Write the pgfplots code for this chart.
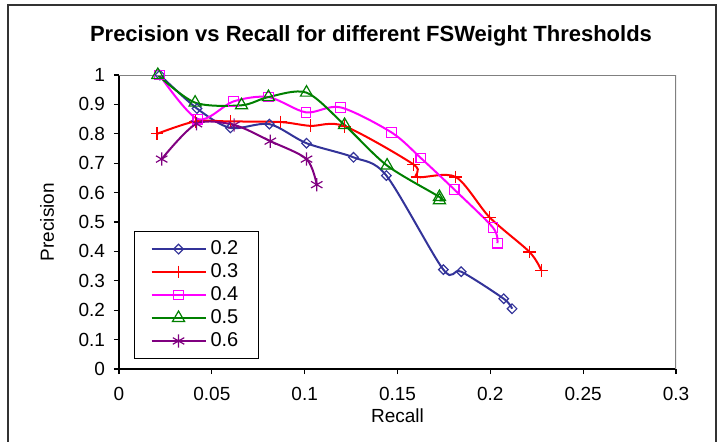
\documentclass[border=0pt]{standalone}
\usepackage{pgfplots}
\pgfplotsset{compat=1.18}
\usepackage{fontspec}
\setmainfont{Liberation Sans}
\definecolor{cA}{RGB}{51,51,153}
\definecolor{cB}{RGB}{255,0,0}
\definecolor{cC}{RGB}{255,0,255}
\definecolor{cD}{RGB}{0,128,0}
\definecolor{cE}{RGB}{128,0,128}
\begin{document}
\begin{tikzpicture}[x=0.5pt,y=0.5pt]
\useasboundingbox (0,0) rectangle (724,441);
\draw[line width=0.6pt,black!80] (8,-2) -- (8,436) -- (716,436) -- (716,-2);
\node[font=\fontsize{11}{13}\selectfont\bfseries] at (371,405) {Precision vs Recall for different FSWeight Thresholds};
\begin{axis}[
  at={(59.5pt,36pt)}, anchor=south west,
  scale only axis, width=278.5pt, height=147pt,
  xmin=0, xmax=0.3, ymin=0, ymax=1,
  axis lines*=left,
  axis line style={black, line width=0.9pt},
  xtick={0,0.05,0.1,0.15,0.2,0.25,0.3},
  xticklabels={0,0.05,0.1,0.15,0.2,0.25,0.3},
  ytick={0,0.1,0.2,0.3,0.4,0.5,0.6,0.7,0.8,0.9,1},
  yticklabels={0,0.1,0.2,0.3,0.4,0.5,0.6,0.7,0.8,0.9,1},
  tick align=outside, major tick length=2.5pt,
  tick style={black, line width=0.6pt},
  ticklabel style={font=\fontsize{9.5}{10}\selectfont},
  xticklabel style={yshift=-3pt},
  yticklabel style={xshift=-1pt},
  xlabel={Recall}, ylabel={Precision},
  label style={font=\fontsize{9.5}{10}\selectfont},
  xlabel style={at={([yshift=-23.5pt]axis description cs:0.5,0)}, anchor=center},
  ylabel style={at={([xshift=-36pt]axis description cs:0,0.5)}, anchor=center},
  every axis plot/.append style={smooth, tension=0.5, line width=1pt},
  legend style={at={(0.027,0.469)}, anchor=north west, draw=black, line width=0.5pt,
    font=\fontsize{10}{10}\selectfont, inner xsep=8pt, inner ysep=3pt,
    nodes={inner xsep=2pt, inner ysep=1.5pt}},
  legend cell align=left,
  legend image code/.code={\draw[mark repeat=2,mark phase=2,#1] plot coordinates {(0pt,0pt) (13.5pt,0pt) (27pt,0pt)};},
]
\addplot[cA, mark=square, mark size=1.7pt, mark options={rotate=45, fill=white, line width=0.6pt}] coordinates {
(0.022,1.0) (0.042,0.886) (0.060,0.820) (0.081,0.833) (0.101,0.768) (0.1263,0.72) (0.144,0.658) (0.1747,0.338) (0.1843,0.331) (0.2072,0.239) (0.2117,0.205)};
\addlegendentry{0.2}
\addplot[cB, mark=+, mark size=3.2pt, mark options={line width=0.6pt}] coordinates {
(0.0205,0.80) (0.041,0.842) (0.060,0.842) (0.087,0.840) (0.103,0.827) (0.1215,0.826) (0.1588,0.695) (0.1607,0.653) (0.1814,0.653) (0.1996,0.516) (0.2211,0.398) (0.2274,0.336)};
\addlegendentry{0.3}
\addplot[cC, mark=square, mark size=2.4pt, mark options={fill=white, line width=0.6pt}] coordinates {
(0.0218,1.0) (0.0424,0.85) (0.0616,0.91) (0.0805,0.925) (0.1007,0.873) (0.1193,0.89) (0.1467,0.805) (0.1625,0.718) (0.1805,0.611) (0.2014,0.481) (0.2038,0.428)};
\addlegendentry{0.4}
\addplot[cD, mark=triangle, mark size=3.5pt, mark options={fill=white, line width=0.6pt}] coordinates {
(0.0209,1.0) (0.041,0.906) (0.066,0.897) (0.0805,0.925) (0.101,0.94) (0.1215,0.83) (0.1444,0.692) (0.1726,0.585) (0.1726,0.574)};
\addlegendentry{0.5}
\addplot[cE, mark=asterisk, mark size=3.3pt, mark options={line width=0.6pt}] coordinates {
(0.023,0.714) (0.0417,0.834) (0.062,0.83) (0.0815,0.775) (0.101,0.714) (0.1065,0.627)};
\addlegendentry{0.6}
\draw[gray, line width=0.6pt] (rel axis cs:0,1) -- (rel axis cs:1,1) -- (rel axis cs:1,0);
\end{axis}
\end{tikzpicture}
\end{document}
